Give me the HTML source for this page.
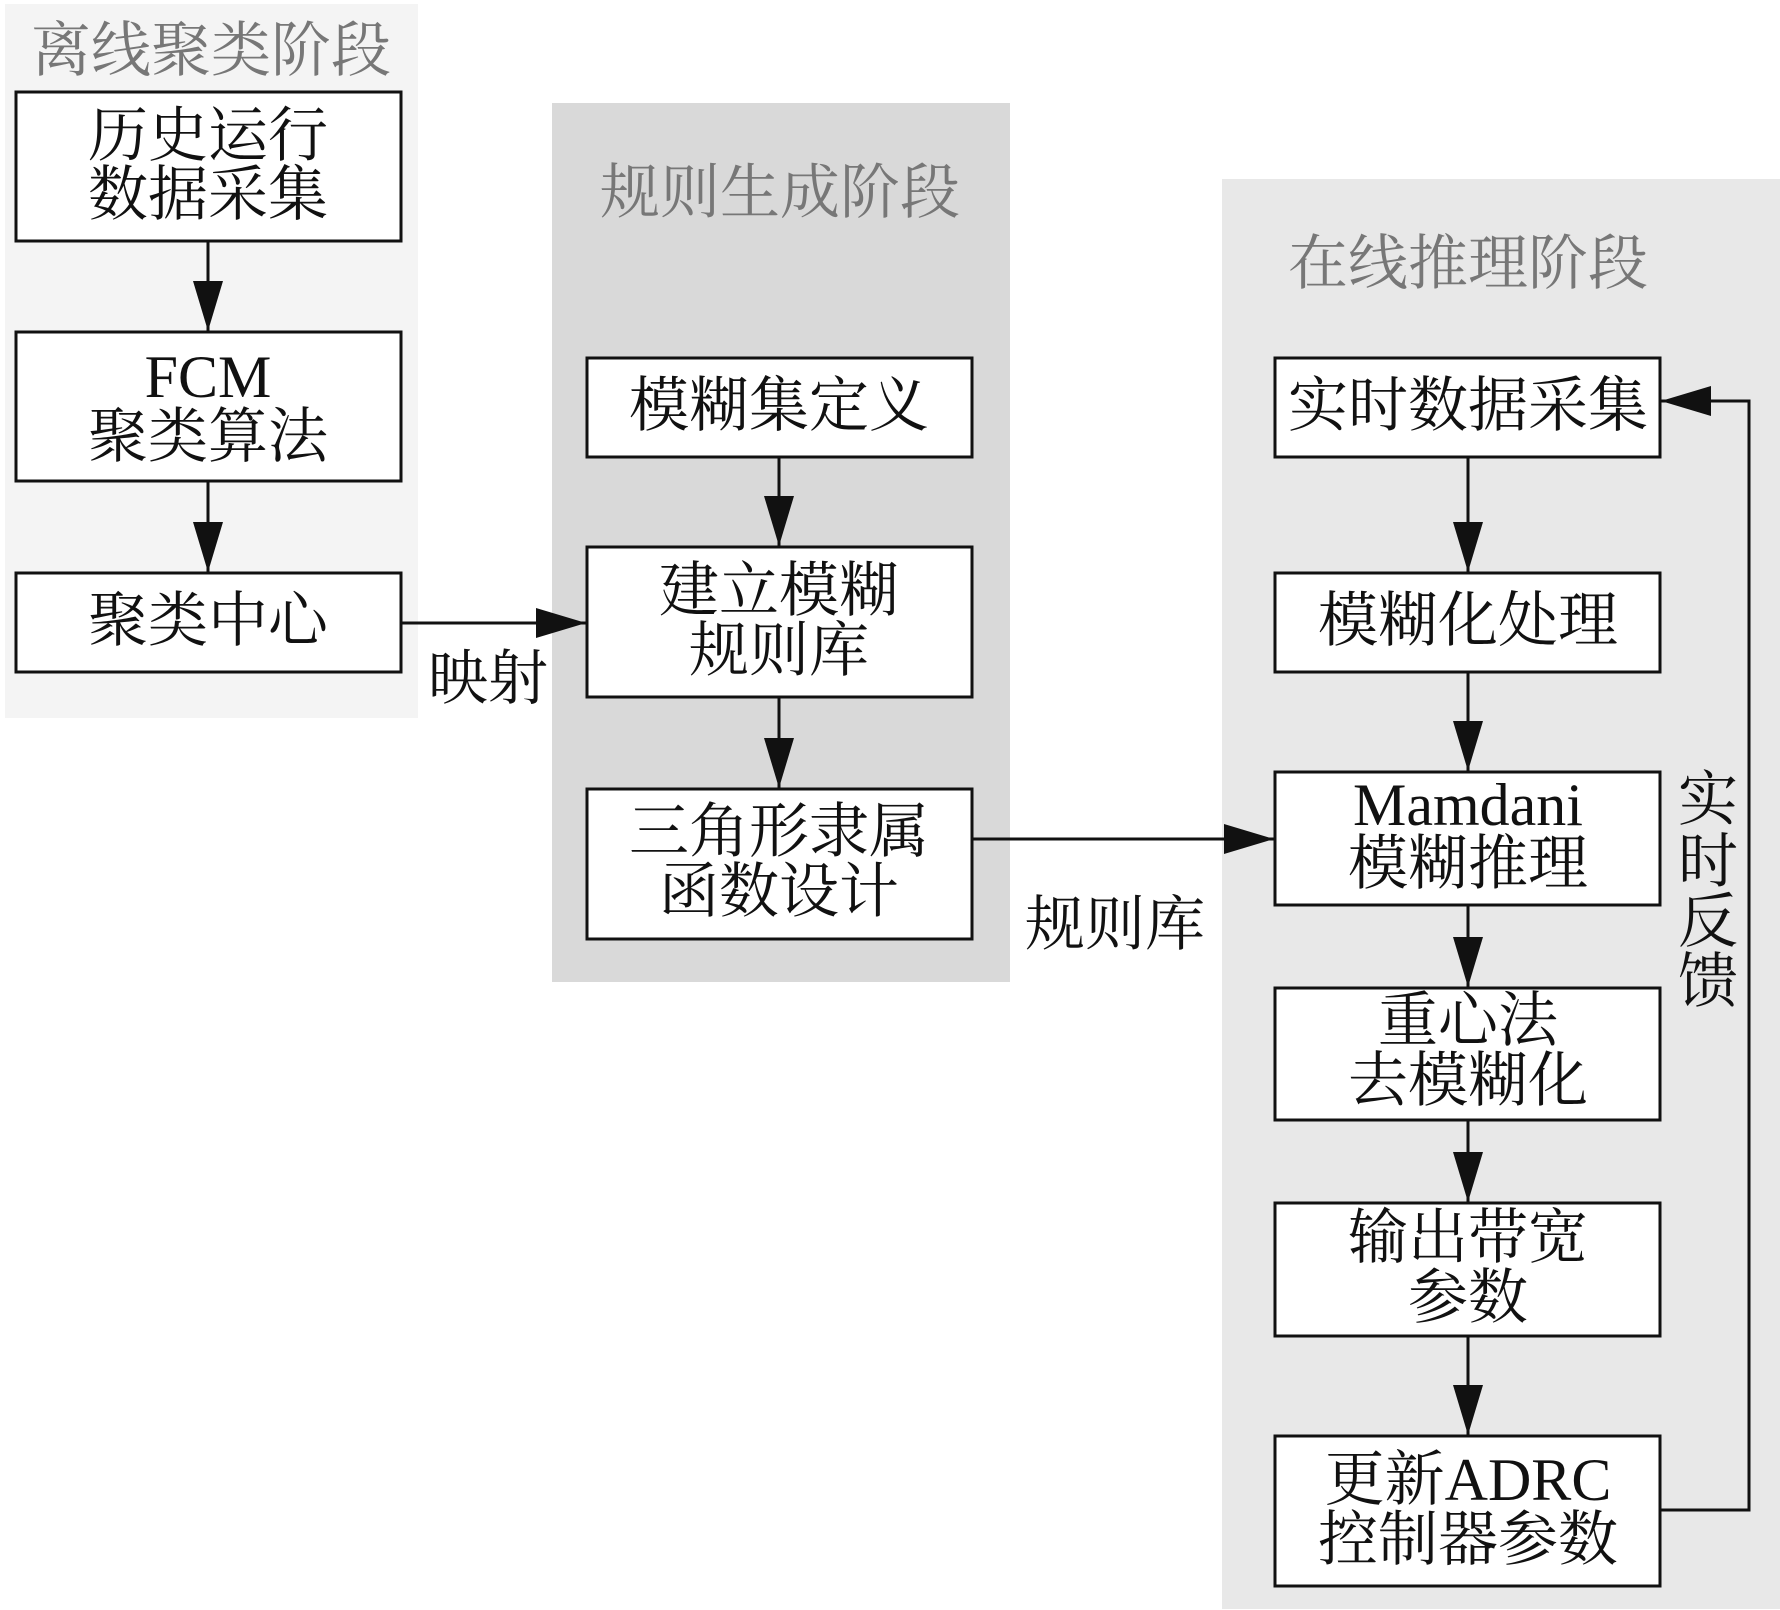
<!DOCTYPE html>
<html><head><meta charset="utf-8"><style>
html,body{margin:0;padding:0;background:#fff}
svg{display:block}
text{font-family:"Liberation Serif","Noto Serif CJK SC",serif;font-size:60px;fill:#111;text-anchor:middle;dominant-baseline:central}
.t{fill:#777}
</style></head><body>
<svg width="1780" height="1610" viewBox="0 0 1780 1610">
<defs><marker id="a" markerWidth="50" markerHeight="30" refX="50" refY="15" orient="auto" markerUnits="userSpaceOnUse"><path d="M0,0 L50,15 L0,30 z" fill="#111"/></marker></defs>
<rect x="5" y="4" width="413" height="714" fill="#f4f4f4"/>
<rect x="552" y="103" width="458" height="879" fill="#d9d9d9"/>
<rect x="1222" y="179" width="558" height="1430" fill="#e8e8e8"/>
<text class="t" x="211" y="51">离线聚类阶段</text>
<text class="t" x="780" y="193">规则生成阶段</text>
<text class="t" x="1468" y="264">在线推理阶段</text>
<g fill="#fff" stroke="#111" stroke-width="3">
<rect x="16" y="92" width="385" height="149"/>
<rect x="16" y="332" width="385" height="149"/>
<rect x="16" y="573" width="385" height="99"/>
<rect x="587" y="358" width="385" height="99"/>
<rect x="587" y="547" width="385" height="150"/>
<rect x="587" y="789" width="385" height="150"/>
<rect x="1275" y="358" width="385" height="99"/>
<rect x="1275" y="573" width="385" height="99"/>
<rect x="1275" y="772" width="385" height="133"/>
<rect x="1275" y="988" width="385" height="132"/>
<rect x="1275" y="1203" width="385" height="133"/>
<rect x="1275" y="1436" width="385" height="150"/>
</g>
<g stroke="#111" stroke-width="3" fill="none" marker-end="url(#a)">
<line x1="208" y1="241" x2="208" y2="331"/>
<line x1="208" y1="481" x2="208" y2="572"/>
<line x1="401" y1="623" x2="586" y2="623"/>
<line x1="779" y1="457" x2="779" y2="546"/>
<line x1="779" y1="697" x2="779" y2="788"/>
<line x1="972" y1="839" x2="1274" y2="839"/>
<line x1="1468" y1="457" x2="1468" y2="572"/>
<line x1="1468" y1="672" x2="1468" y2="771"/>
<line x1="1468" y1="905" x2="1468" y2="987"/>
<line x1="1468" y1="1120" x2="1468" y2="1202"/>
<line x1="1468" y1="1336" x2="1468" y2="1435"/>
<polyline points="1660,1510 1749,1510 1749,401 1661,401"/>
</g>
<text x="208" y="136">历史运行</text><text x="208" y="195">数据采集</text>
<text x="208" y="377">FCM</text><text x="208" y="437">聚类算法</text>
<text x="208" y="621">聚类中心</text>
<text x="779" y="406">模糊集定义</text>
<text x="779" y="591">建立模糊</text><text x="779" y="651">规则库</text>
<text x="779" y="832">三角形隶属</text><text x="779" y="892">函数设计</text>
<text x="1468" y="406">实时数据采集</text>
<text x="1468" y="621">模糊化处理</text>
<text x="1468" y="805">Mamdani</text><text x="1468" y="864">模糊推理</text>
<text x="1468" y="1021">重心法</text><text x="1468" y="1081">去模糊化</text>
<text x="1468" y="1238">输出带宽</text><text x="1468" y="1298">参数</text>
<text x="1468" y="1480">更新ADRC</text><text x="1468" y="1540">控制器参数</text>
<text x="488" y="679">映射</text>
<text x="1115" y="925">规则库</text>
<text x="1708" y="800">实</text><text x="1708" y="862">时</text><text x="1708" y="922">反</text><text x="1708" y="982">馈</text>
</svg>
</body></html>
